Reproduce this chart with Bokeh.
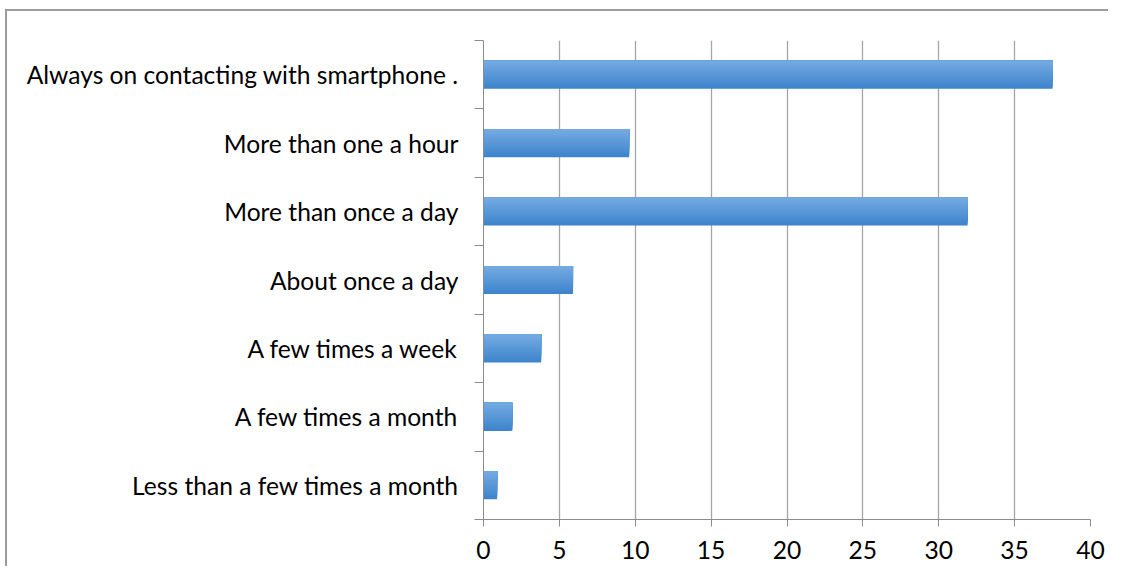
from bokeh.plotting import figure
from bokeh.models import Range1d, FixedTicker
from bokeh.embed import file_html
from bokeh.resources import INLINE

categories = ["Less than a few times a month", "A few times a month", "A few times a week",
              "About once a day", "More than once a day", "More than one a hour",
              "Always on contacting with smartphone ."]
values = [0.9, 1.9, 3.8, 5.9, 31.9, 9.6, 37.5]
x_ticks = [0, 5, 10, 15, 20, 25, 30, 35, 40]

FONT = "Lato"
W, H = 1108, 566
p = figure(width=W, height=H, output_backend="svg", toolbar_location=None,
           x_range=Range1d(0, 40), y_range=Range1d(0, len(categories)),
           min_border_left=483, min_border_right=18, min_border_top=40, min_border_bottom=47)
p.outline_line_color = None
p.background_fill_color = "white"
p.border_fill_color = None

# gradient bars: nested quads anchored at bar top, drawn from bottom colour to top colour
n = 16
bar_h = 0.41
top_c = (0x74, 0xaa, 0xe2)
bot_c = (0x3e, 0x84, 0xcc)
L, R, T, B, C = [], [], [], [], []
for k in range(n):
    t = 1 - k / (n - 1)
    c = tuple(int(round(top_c[j] + (bot_c[j] - top_c[j]) * t)) for j in range(3))
    frac = (n - k) / n
    for i, v in enumerate(values):
        center = i + 0.5
        top = center + bar_h / 2
        L.append(0); R.append(v); T.append(top); B.append(top - bar_h * frac)
        C.append("#%02x%02x%02x" % c)
p.quad(left=L, right=R, top=T, bottom=B, fill_color=C, line_color=None)

# x axis
xa = p.xaxis[0]
xa.ticker = FixedTicker(ticks=x_ticks, minor_ticks=[])
xa.axis_line_color = "#8c8c8c"
xa.major_tick_line_color = "#8c8c8c"
xa.major_tick_in = 0
xa.major_tick_out = 7
xa.major_label_text_font = FONT
xa.major_label_text_font_size = "24.6px"
xa.major_label_text_color = "black"
xa.major_label_standoff = 14

# y axis
ya = p.yaxis[0]
ya.ticker = FixedTicker(ticks=[i + 0.5 for i in range(len(categories))],
                        minor_ticks=list(range(len(categories) + 1)))
ya.major_label_overrides = {i + 0.5: c for i, c in enumerate(categories)}
ya.axis_line_color = "#8c8c8c"
ya.major_tick_line_color = None
ya.minor_tick_line_color = "#8c8c8c"
ya.minor_tick_in = 0
ya.minor_tick_out = 9
ya.major_label_text_font = FONT
ya.major_label_text_font_size = "24.6px"
ya.major_label_text_color = "black"
ya.major_label_standoff = 16

p.xgrid.ticker = FixedTicker(ticks=x_ticks)
p.xgrid.grid_line_color = "#a6a6a6"
p.xgrid.grid_line_width = 1.3
p.ygrid.grid_line_color = None

# outer chart-area border (top and left edges), painted behind the transparent canvas border area
p.styles = {
    "background-color": "white",
    "background-image": "linear-gradient(#9c9c9c, #9c9c9c), linear-gradient(#9c9c9c, #9c9c9c)",
    "background-size": "100% 2px, 2px 100%",
    "background-position": "5px 9px, 5px 9px",
    "background-repeat": "no-repeat",
}

open("out.html", "w").write(file_html(p, INLINE))
